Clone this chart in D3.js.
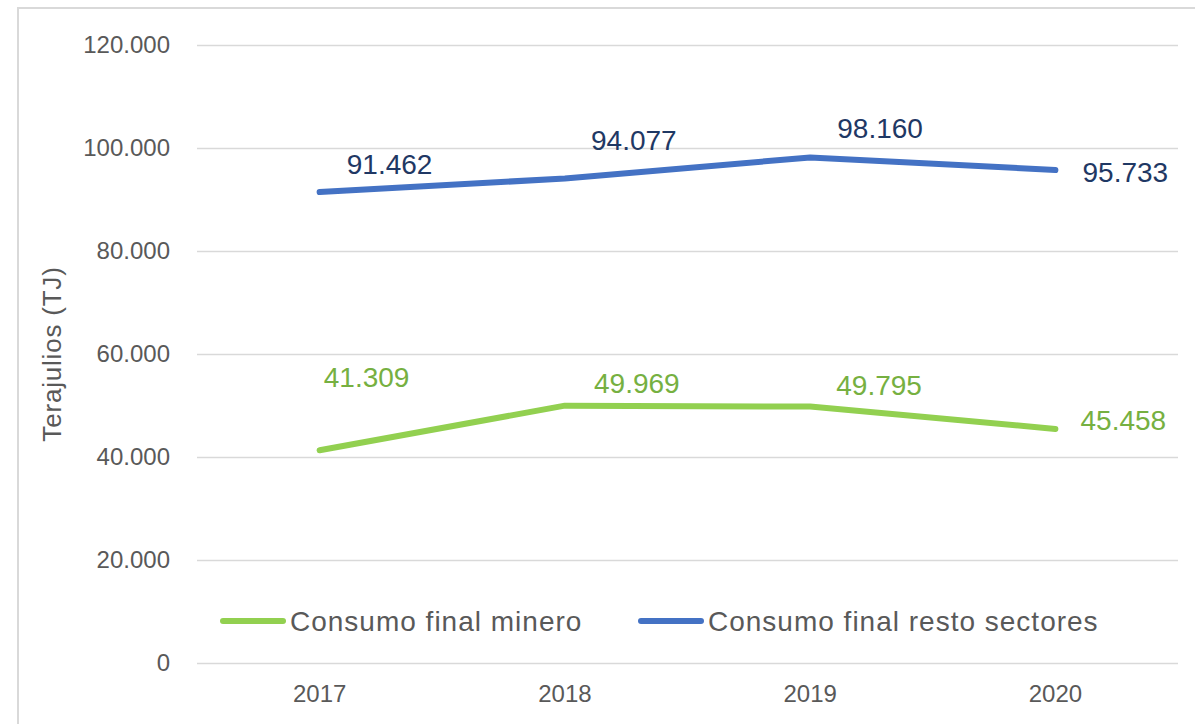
<!DOCTYPE html>
<html>
<head>
<meta charset="utf-8">
<script src="https://cdn.jsdelivr.net/npm/d3@7"></script>
<style>
  body { margin: 0; background: #fff; }
  text { font-family: "Liberation Sans", Arial, sans-serif; }
</style>
</head>
<body>
<script>
// Data
var years = ["2017", "2018", "2019", "2020"];
var minero = [41309, 49969, 49795, 45458];
var resto = [91462, 94077, 98160, 95733];
var yTicks = [0, 20000, 40000, 60000, 80000, 100000, 120000];
var seriesNames = ["Consumo final minero", "Consumo final resto sectores"];

// label nudges (pixels) so they sit like in the original
var mineroLabelOffset = [[47, -63], [72, -13], [69, -12], [68, 1]];
var restoLabelOffset = [[70, -18], [69, -29], [70, -19], [70, 12]];

var svgWidth = 1195;
var svgHeight = 724;
var margin = { top: 45, right: 15, bottom: 61, left: 197 };
var chartWidth = svgWidth - margin.left - margin.right;
var chartHeight = svgHeight - margin.top - margin.bottom;

var svg = d3.select("body")
  .append("svg")
  .attr("width", svgWidth)
  .attr("height", svgHeight);

// chart frame
svg.append("rect")
  .attr("x", 18)
  .attr("y", 8)
  .attr("width", 1200)
  .attr("height", 800)
  .attr("fill", "none")
  .attr("stroke", "#d9d9d9")
  .attr("stroke-width", 2);

var chartGroup = svg.append("g")
  .attr("transform", `translate(${margin.left}, ${margin.top})`);

var xScale = d3.scaleBand()
  .domain(years)
  .range([0, chartWidth - 2]);

var yScale = d3.scaleLinear()
  .domain([0, 120000])
  .range([chartHeight, 0]);

var fmt = function(v) {
  return v === 0 ? "0" : d3.format(",")(v).replace(/,/g, ".");
};

// gridlines + y tick labels
var leftAxis = d3.axisLeft(yScale)
  .tickValues(yTicks)
  .tickSize(-(chartWidth - 2))
  .tickPadding(27)
  .tickFormat(fmt);

var yAxisG = chartGroup.append("g").call(leftAxis);
yAxisG.select(".domain").remove();
yAxisG.selectAll(".tick line").attr("stroke", "#d9d9d9").attr("stroke-width", 1.5);
yAxisG.selectAll(".tick text")
  .attr("fill", "#595959")
  .style("font-size", "24px");

// x axis labels
var bottomAxis = d3.axisBottom(xScale).tickSize(0).tickPadding(22);
var xAxisG = chartGroup.append("g")
  .attr("transform", `translate(0, ${chartHeight})`)
  .call(bottomAxis);
xAxisG.select(".domain").remove();
xAxisG.selectAll(".tick text")
  .attr("fill", "#595959")
  .style("font-size", "24px");

// y axis title
chartGroup.append("text")
  .attr("transform", "rotate(-90)")
  .attr("x", -(354 - margin.top))
  .attr("y", 61 - margin.left)
  .attr("text-anchor", "middle")
  .attr("fill", "#595959")
  .style("font-size", "26px")
  .style("letter-spacing", "0.8px")
  .text("Terajulios (TJ)");

var line = d3.line()
  .x((d, i) => xScale(years[i]) + xScale.bandwidth() / 2)
  .y(d => yScale(d));

function drawSeries(values, color, labelColor, offsets) {
  chartGroup.append("path")
    .datum(values)
    .attr("d", line)
    .attr("fill", "none")
    .attr("stroke", color)
    .attr("stroke-width", 6)
    .attr("stroke-linecap", "round")
    .attr("stroke-linejoin", "round");

  chartGroup.selectAll(null)
    .data(values)
    .enter()
    .append("text")
    .attr("x", (d, i) => xScale(years[i]) + xScale.bandwidth() / 2 + offsets[i][0])
    .attr("y", (d, i) => yScale(d) + offsets[i][1])
    .attr("text-anchor", "middle")
    .attr("fill", labelColor)
    .style("font-size", "28px")
    .text(d => fmt(d));
}

drawSeries(minero, "#92d050", "#76b041", mineroLabelOffset);
drawSeries(resto, "#4472c4", "#1f3864", restoLabelOffset);

// legend
var legend = svg.append("g");
var legendItems = [
  { name: seriesNames[0], color: "#92d050", x: 223 },
  { name: seriesNames[1], color: "#4472c4", x: 641 }
];
legendItems.forEach(function(item) {
  legend.append("line")
    .attr("x1", item.x)
    .attr("x2", item.x + 60)
    .attr("y1", 621)
    .attr("y2", 621)
    .attr("stroke", item.color)
    .attr("stroke-width", 6)
    .attr("stroke-linecap", "round");
  legend.append("text")
    .attr("x", item.x + 67)
    .attr("y", 631)
    .attr("fill", "#595959")
    .style("font-size", "28px")
    .style("letter-spacing", "1px")
    .text(item.name);
});
</script>
</body>
</html>
